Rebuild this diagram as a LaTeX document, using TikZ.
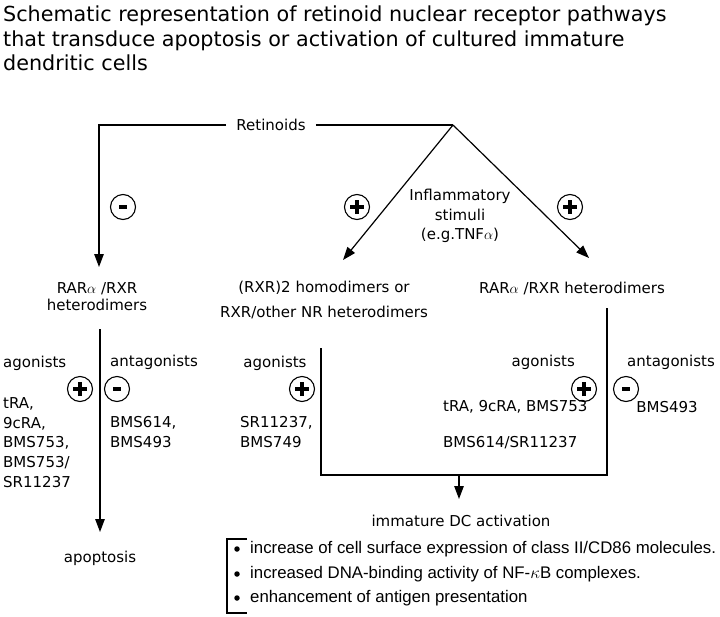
\documentclass[tikz,border=0pt]{standalone}
\usepackage{fontspec}
\setmainfont{DejaVu Sans}
\newfontfamily\narrowfont{Liberation Sans}
\usetikzlibrary{arrows.meta}
\begin{document}
\begin{tikzpicture}[x=1pt,y=-1pt,
  txt/.style={inner sep=0pt,font=\fontsize{15}{17}\selectfont},
  signbase/.style={circle,draw,line width=1.1pt,minimum size=25pt,inner sep=0pt},
  plussign/.style={signbase,path picture={
      \draw[line width=3.4pt] ([xshift=-7pt]path picture bounding box.center) -- ([xshift=7pt]path picture bounding box.center);
      \draw[line width=3.4pt] ([yshift=-7pt]path picture bounding box.center) -- ([yshift=7pt]path picture bounding box.center);}},
  minussign/.style={signbase,path picture={
      \draw[line width=3.2pt] ([xshift=-3.8pt]path picture bounding box.center) -- ([xshift=3.8pt]path picture bounding box.center);}},
  ln/.style={line width=1.2pt},
  arr/.style={line width=1.2pt,-{Triangle[length=13pt,width=9.5pt]}},
  bul/.style={circle,fill,inner sep=0pt,minimum size=5.5pt},
  btxt/.style={anchor=west,inner sep=0pt,font=\narrowfont\fontsize{16.8}{16.8}\selectfont}
]
\path[fill=white] (0,0) rectangle (720,616);
\useasboundingbox (0,0) rectangle (720,616);

% title
\node[anchor=north west,inner sep=0pt,align=left,font=\fontsize{20.7}{24.3}\selectfont] (title) at (3,6)
  {Schematic representation of retinoid nuclear receptor pathways\\that transduce apoptosis or activation of cultured immature\\dendritic cells};

% top
\node[txt,inner xsep=10pt] (ret) at (271,125) {Retinoids};
\coordinate (apex) at (453,125);
\coordinate (lcorner) at (99,125);
\coordinate (ltip) at (99,267);
\coordinate (mtip) at (343,260);
\coordinate (rtip) at (589,258);
\draw[arr] (ret.west) -- (lcorner) -- (ltip);
\draw[ln] (ret.east) -- (apex);
\draw[arr] (apex) -- (mtip);
\draw[arr] (apex) -- (rtip);

\node[minussign] (s1) at (123,207) {};
\node[plussign] (s2) at (357,207) {};
\node[plussign] (s3) at (570,207) {};

\node[txt,align=center,font=\fontsize{15}{19.5}\selectfont] (infl) at (460,216) {Inflammatory\\stimuli\\(e.g.TNF$\alpha$)};

% receptors
\node[txt,align=center] (lrec) at (97,297) {RAR$\alpha$ /RXR\\heterodimers};
\node[txt,align=center,font=\fontsize{15}{25}\selectfont] (mrec) at (324,300) {(RXR)2 homodimers or\\RXR/other NR heterodimers};
\node[txt] (rrec) at (572,288) {RAR$\alpha$ /RXR heterodimers};

% left branch
\coordinate (lstemtop) at (100,329);
\coordinate (lstemtip) at (100,532);
\draw[arr] (lstemtop) -- (lstemtip);
\node[txt,anchor=west] (lag) at (3,363) {agonists};
\node[plussign] (s4) at (80,389) {};
\node[minussign] (s5) at (117,389) {};
\node[txt,anchor=west] (lant) at (110,362) {antagonists};
\node[txt,anchor=west,align=left,font=\fontsize{15}{19.7}\selectfont] (lagl) at (3,442.5) {tRA,\\9cRA,\\BMS753,\\BMS753/\\SR11237};
\node[txt,anchor=west,align=left,font=\fontsize{15}{19.5}\selectfont] (lantl) at (110,432) {BMS614,\\BMS493};
\node[txt] (apo) at (100,558) {apoptosis};

% middle branch
\node[txt] (mag) at (275,363) {agonists};
\node[plussign] (s6) at (302,389) {};
\node[txt,anchor=west,align=left,font=\fontsize{15}{19.5}\selectfont] (magl) at (240,432) {SR11237,\\BMS749};
\coordinate (mtop) at (321,348);
\coordinate (mbot) at (321,475);
\coordinate (rbot) at (607,475);
\coordinate (rtop) at (607,308);
\draw[ln] (mtop) -- (mbot) -- (rbot) -- (rtop);
\coordinate (jn) at (459,475);
\coordinate (jtip) at (459,499);
\draw[arr] (jn) -- (jtip);

% right branch
\node[txt,anchor=east] (rag) at (575,362) {agonists};
\node[plussign] (s7) at (584,389) {};
\node[minussign] (s8) at (626,389) {};
\node[txt,anchor=west] (rant) at (627,362) {antagonists};
\node[txt] (rantl) at (667,407) {BMS493};
\node[txt,anchor=west,align=left,font=\fontsize{15}{36}\selectfont] (ragl) at (443,425) {tRA, 9cRA, BMS753\\BMS614/SR11237};

% outcome
\node[txt] (act) at (461,521) {immature DC activation};
\coordinate (bk1) at (247,539);
\coordinate (bk2) at (227,539);
\coordinate (bk3) at (227,613);
\coordinate (bk4) at (247,613);
\draw[line width=2pt] (bk1) -- (bk2) -- (bk3) -- (bk4);
\node[bul] (b1) at (237,549) {};
\node[bul] (b2) at (237,574) {};
\node[bul] (b3) at (237,598) {};
\node[btxt] (t1) at (250,549) {increase of cell surface expression of class II/CD86 molecules.};
\node[btxt] (t2) at (250,574) {increased DNA-binding activity of NF-$\kappa$B complexes.};
\node[btxt] (t3) at (250,598) {enhancement of antigen presentation};
\end{tikzpicture}
\end{document}
